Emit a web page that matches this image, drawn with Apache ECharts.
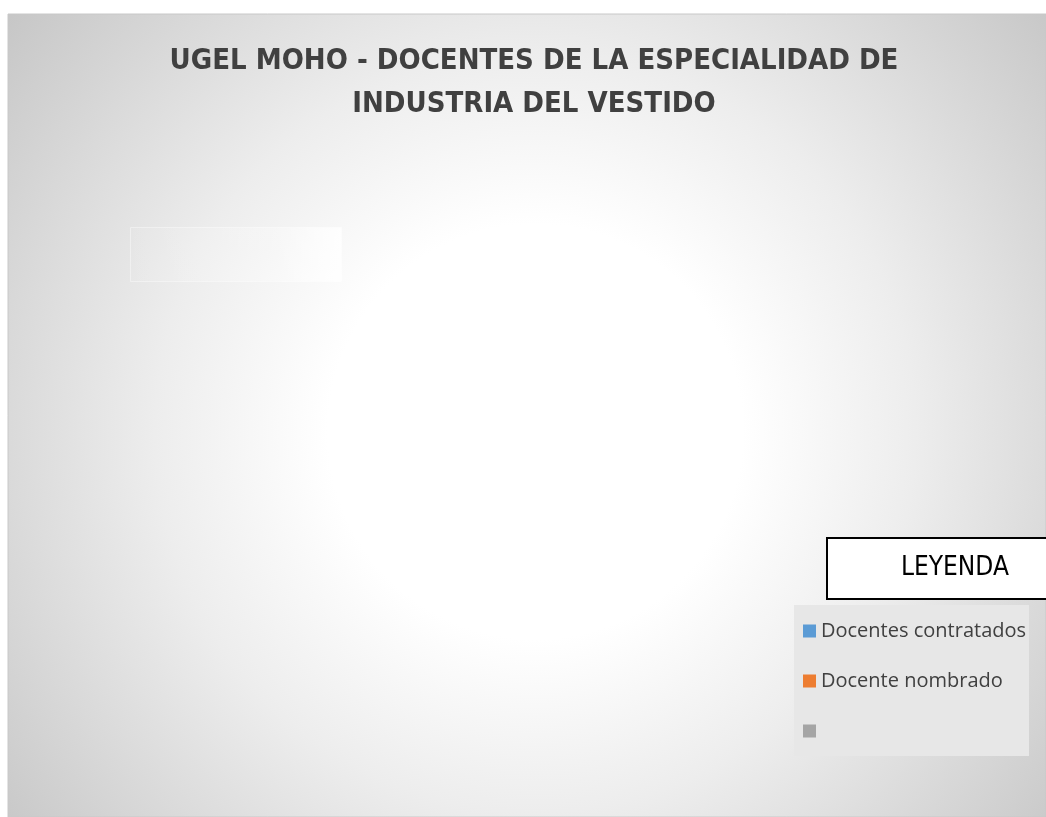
<!DOCTYPE html>
<html>
<head>
<meta charset="utf-8">
<script src="https://cdn.jsdelivr.net/npm/echarts@6/dist/echarts.min.js"></script>
<style>
  html, body { margin: 0; padding: 0; background: #fff; }
  #chart { width: 1046px; height: 817px; }
</style>
</head>
<body>
<div id="chart"></div>
<script>
// datos del grafico (sin valores visibles en la imagen)
var categorias = ["Docentes contratados", "Docente nombrado", " "];
var valores = [0, 0, 0];
var colores = ["#5B9BD5", "#ED7D31", "#A5A5A5"];
var titulo = "UGEL MOHO - DOCENTES DE LA ESPECIALIDAD DE\nINDUSTRIA DEL VESTIDO";

var chart = echarts.init(document.getElementById("chart"));

var datosPie = categorias.map(function (c, i) {
  return { name: c, value: valores[i], itemStyle: { color: colores[i] } };
});

var option = {
  animation: false,
  backgroundColor: "#ffffff",
  graphic: [
    {
      // fondo con degradado radial
      type: "rect", z: -10, silent: true,
      shape: { x: 8, y: 14, width: 1038, height: 803 },
      style: {
        fill: {
          type: "radial", x: 0.508, y: 0.52, r: 0.86,
          colorStops: [
            { offset: 0, color: "#ffffff" },
            { offset: 0.3, color: "#ffffff" },
            { offset: 0.55, color: "#ededed" },
            { offset: 1, color: "#c4c4c4" }
          ]
        },
        stroke: "#c8c8c8", lineWidth: 1
      }
    },
    {
      type: "rect", z: -5, silent: true,
      shape: { x: 130.5, y: 227.5, width: 211, height: 54 },
      style: {
        fill: {
          type: "linear", x: 0, y: 0, x2: 1, y2: 0,
          colorStops: [
            { offset: 0, color: "rgba(255,255,255,0.05)" },
            { offset: 0.7, color: "rgba(255,255,255,0.3)" },
            { offset: 1, color: "rgba(255,255,255,0.85)" }
          ]
        },
        stroke: "rgba(255,255,255,0.4)", lineWidth: 1
      }
    },
    {
      // cuadro LEYENDA
      type: "rect", z: 5, silent: true,
      shape: { x: 827, y: 538, width: 225, height: 61 },
      style: { fill: "#ffffff", stroke: "#000000", lineWidth: 2 }
    },
    {
      type: "text", z: 6, silent: true,
      left: 901, top: 555,
      style: {
        text: "LEYENDA",
        font: "26px 'Liberation Sans Narrow', 'DejaVu Sans Condensed', sans-serif",
        fill: "#000000"
      }
    },
    {
      // fondo de la leyenda
      type: "rect", z: -4, silent: true,
      shape: { x: 794, y: 605, width: 235, height: 151 },
      style: { fill: "#e7e7e7" }
    }
  ],
  title: {
    text: titulo,
    left: 529,
    top: 35,
    textAlign: "center",
    textStyle: {
      fontFamily: "'DejaVu Sans Condensed', sans-serif",
      fontSize: 29,
      fontWeight: "bold",
      color: "#404040",
      lineHeight: 43
    }
  },
  legend: {
    data: categorias,
    orient: "vertical",
    left: 803,
    top: 620,
    icon: "rect",
    itemWidth: 13,
    itemHeight: 13,
    itemGap: 28,
    itemTextGap: 6,
    padding: 0,
    selectedMode: false,
    textStyle: {
      fontFamily: "'Open Sans', sans-serif",
      fontSize: 20,
      lineHeight: 22,
      color: "#404040"
    }
  },
  series: [{
    type: "pie",
    radius: "40%",
    center: ["50%", "52%"],
    stillShowZeroSum: false,
    label: { show: false },
    labelLine: { show: false },
    data: datosPie
  }]
};

chart.setOption(option);
window.onresize = function () { chart.resize(); };
</script>
</body>
</html>
